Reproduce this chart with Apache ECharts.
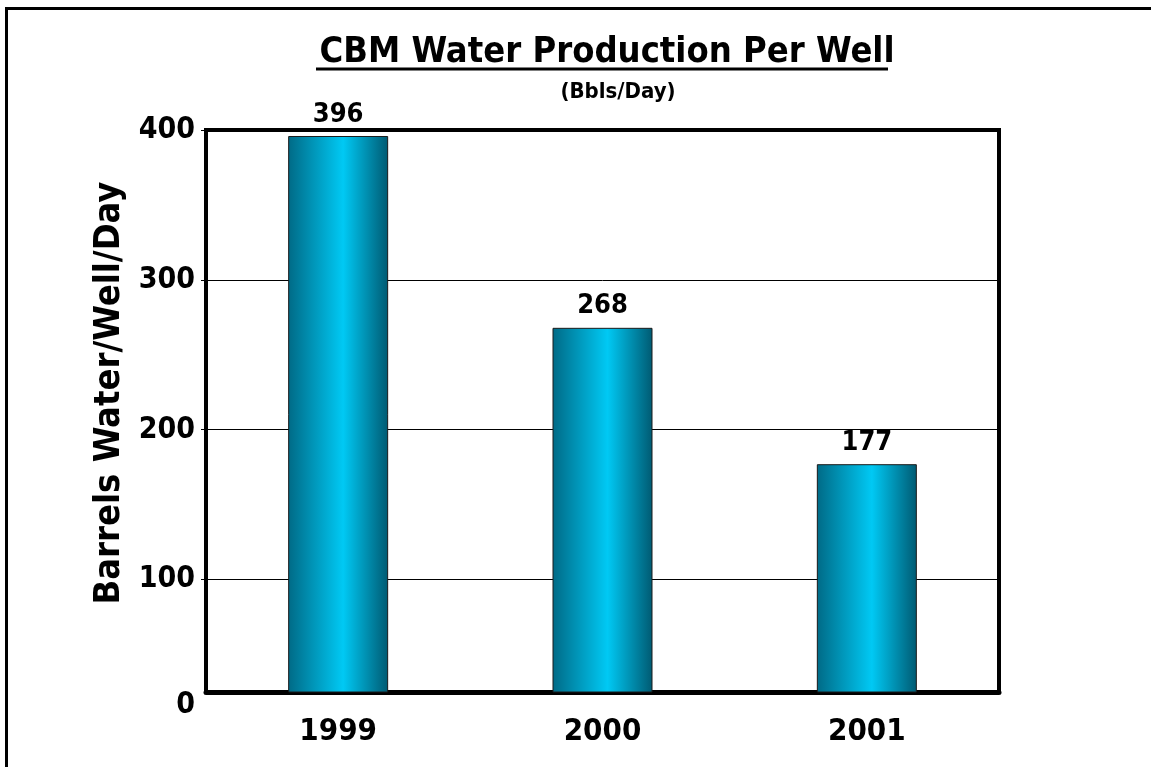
<!DOCTYPE html>
<html>
<head>
<meta charset="utf-8">
<title>CBM Water Production Per Well</title>
<script src="https://cdn.jsdelivr.net/npm/echarts@6/dist/echarts.min.js"></script>
<style>
  html, body { margin: 0; padding: 0; background: #fff; }
  #chart { width: 1151px; height: 767px; }
</style>
</head>
<body>
<div id="chart"></div>
<script>
  // data
  var years = ['1999', '2000', '2001'];
  var waterPerWell = [396, 268, 177];
  var yTicks = [100, 200, 300, 400];
  // the value axis starts a little above zero in the original; its bottom is labelled "0"
  var yBottom = 25;
  var yTop = 400;

  var font = '"Liberation Sans Narrow", "DejaVu Sans Condensed", Arial, sans-serif';

  var chart = echarts.init(document.getElementById('chart'));
  chart.setOption({
    backgroundColor: '#fff',
    animation: false,
    title: [{
      text: 'CBM Water Production Per Well',
      left: 602,
      top: 30,
      textAlign: 'center',
      textStyle: { fontFamily: font, fontSize: 36, fontWeight: 'bold', color: '#000' }
    }, {
      text: '(Bbls/Day)',
      left: 613,
      top: 76,
      textAlign: 'center',
      textStyle: { fontFamily: font, fontSize: 22, fontWeight: 'bold', color: '#000' }
    }],
    graphic: [{
      // outer frame
      type: 'rect',
      shape: { x: 6.5, y: 8.5, width: 1300, height: 1000 },
      style: { fill: 'none', stroke: '#000', lineWidth: 3 },
      silent: true
    }, {
      // title underline
      type: 'line',
      shape: { x1: 316, y1: 69, x2: 888, y2: 69 },
      style: { stroke: '#000', lineWidth: 3 },
      silent: true
    }],
    grid: {
      left: 206,
      right: 152,
      top: 130,
      bottom: 75,
      containLabel: false,
      show: true,
      borderColor: '#000',
      borderWidth: 4
    },
    xAxis: {
      type: 'category',
      data: years,
      axisLine: { show: true, lineStyle: { color: '#000', width: 5 } },
      axisTick: { show: false },
      axisLabel: {
        margin: 24,
        fontFamily: font, fontSize: 31, fontWeight: 'bold', color: '#000'
      }
    },
    yAxis: {
      type: 'value',
      min: yBottom,
      max: yTop,
      name: 'Barrels Water/Well/Day',
      nameLocation: 'middle',
      nameGap: 76,
      nameTextStyle: {
        fontFamily: font, fontSize: 36, fontWeight: 'bold', color: '#000',
        padding: [0, 0, 0, 36]
      },
      axisLine: { show: true, lineStyle: { color: '#000', width: 3 } },
      axisTick: { show: true, customValues: yTicks, length: 5, lineStyle: { color: '#000' } },
      splitLine: { show: true, lineStyle: { color: '#000', width: 1 } },
      axisLabel: {
        customValues: [yBottom].concat(yTicks),
        margin: 11,
        fontFamily: font, fontSize: 30, fontWeight: 'bold', color: '#000',
        formatter: function (v) {
          return v === yBottom ? '{z|0}' : String(v);
        },
        rich: {
          z: { fontFamily: font, fontSize: 30, fontWeight: 'bold', color: '#000', padding: [26, 0, 0, 0] }
        }
      }
    },
    series: [{
      type: 'bar',
      data: waterPerWell,
      barWidth: 100,
      itemStyle: {
        color: new echarts.graphic.LinearGradient(0, 0, 1, 0, [
          { offset: 0, color: '#006a86' },
          { offset: 0.55, color: '#00c9f4' },
          { offset: 1, color: '#005a72' }
        ]),
        borderColor: '#1a1a1a',
        borderWidth: 1
      },
      label: {
        show: true,
        position: 'top',
        distance: 8,
        fontFamily: font, fontSize: 27, fontWeight: 'bold', color: '#000'
      }
    }]
  });
</script>
</body>
</html>
